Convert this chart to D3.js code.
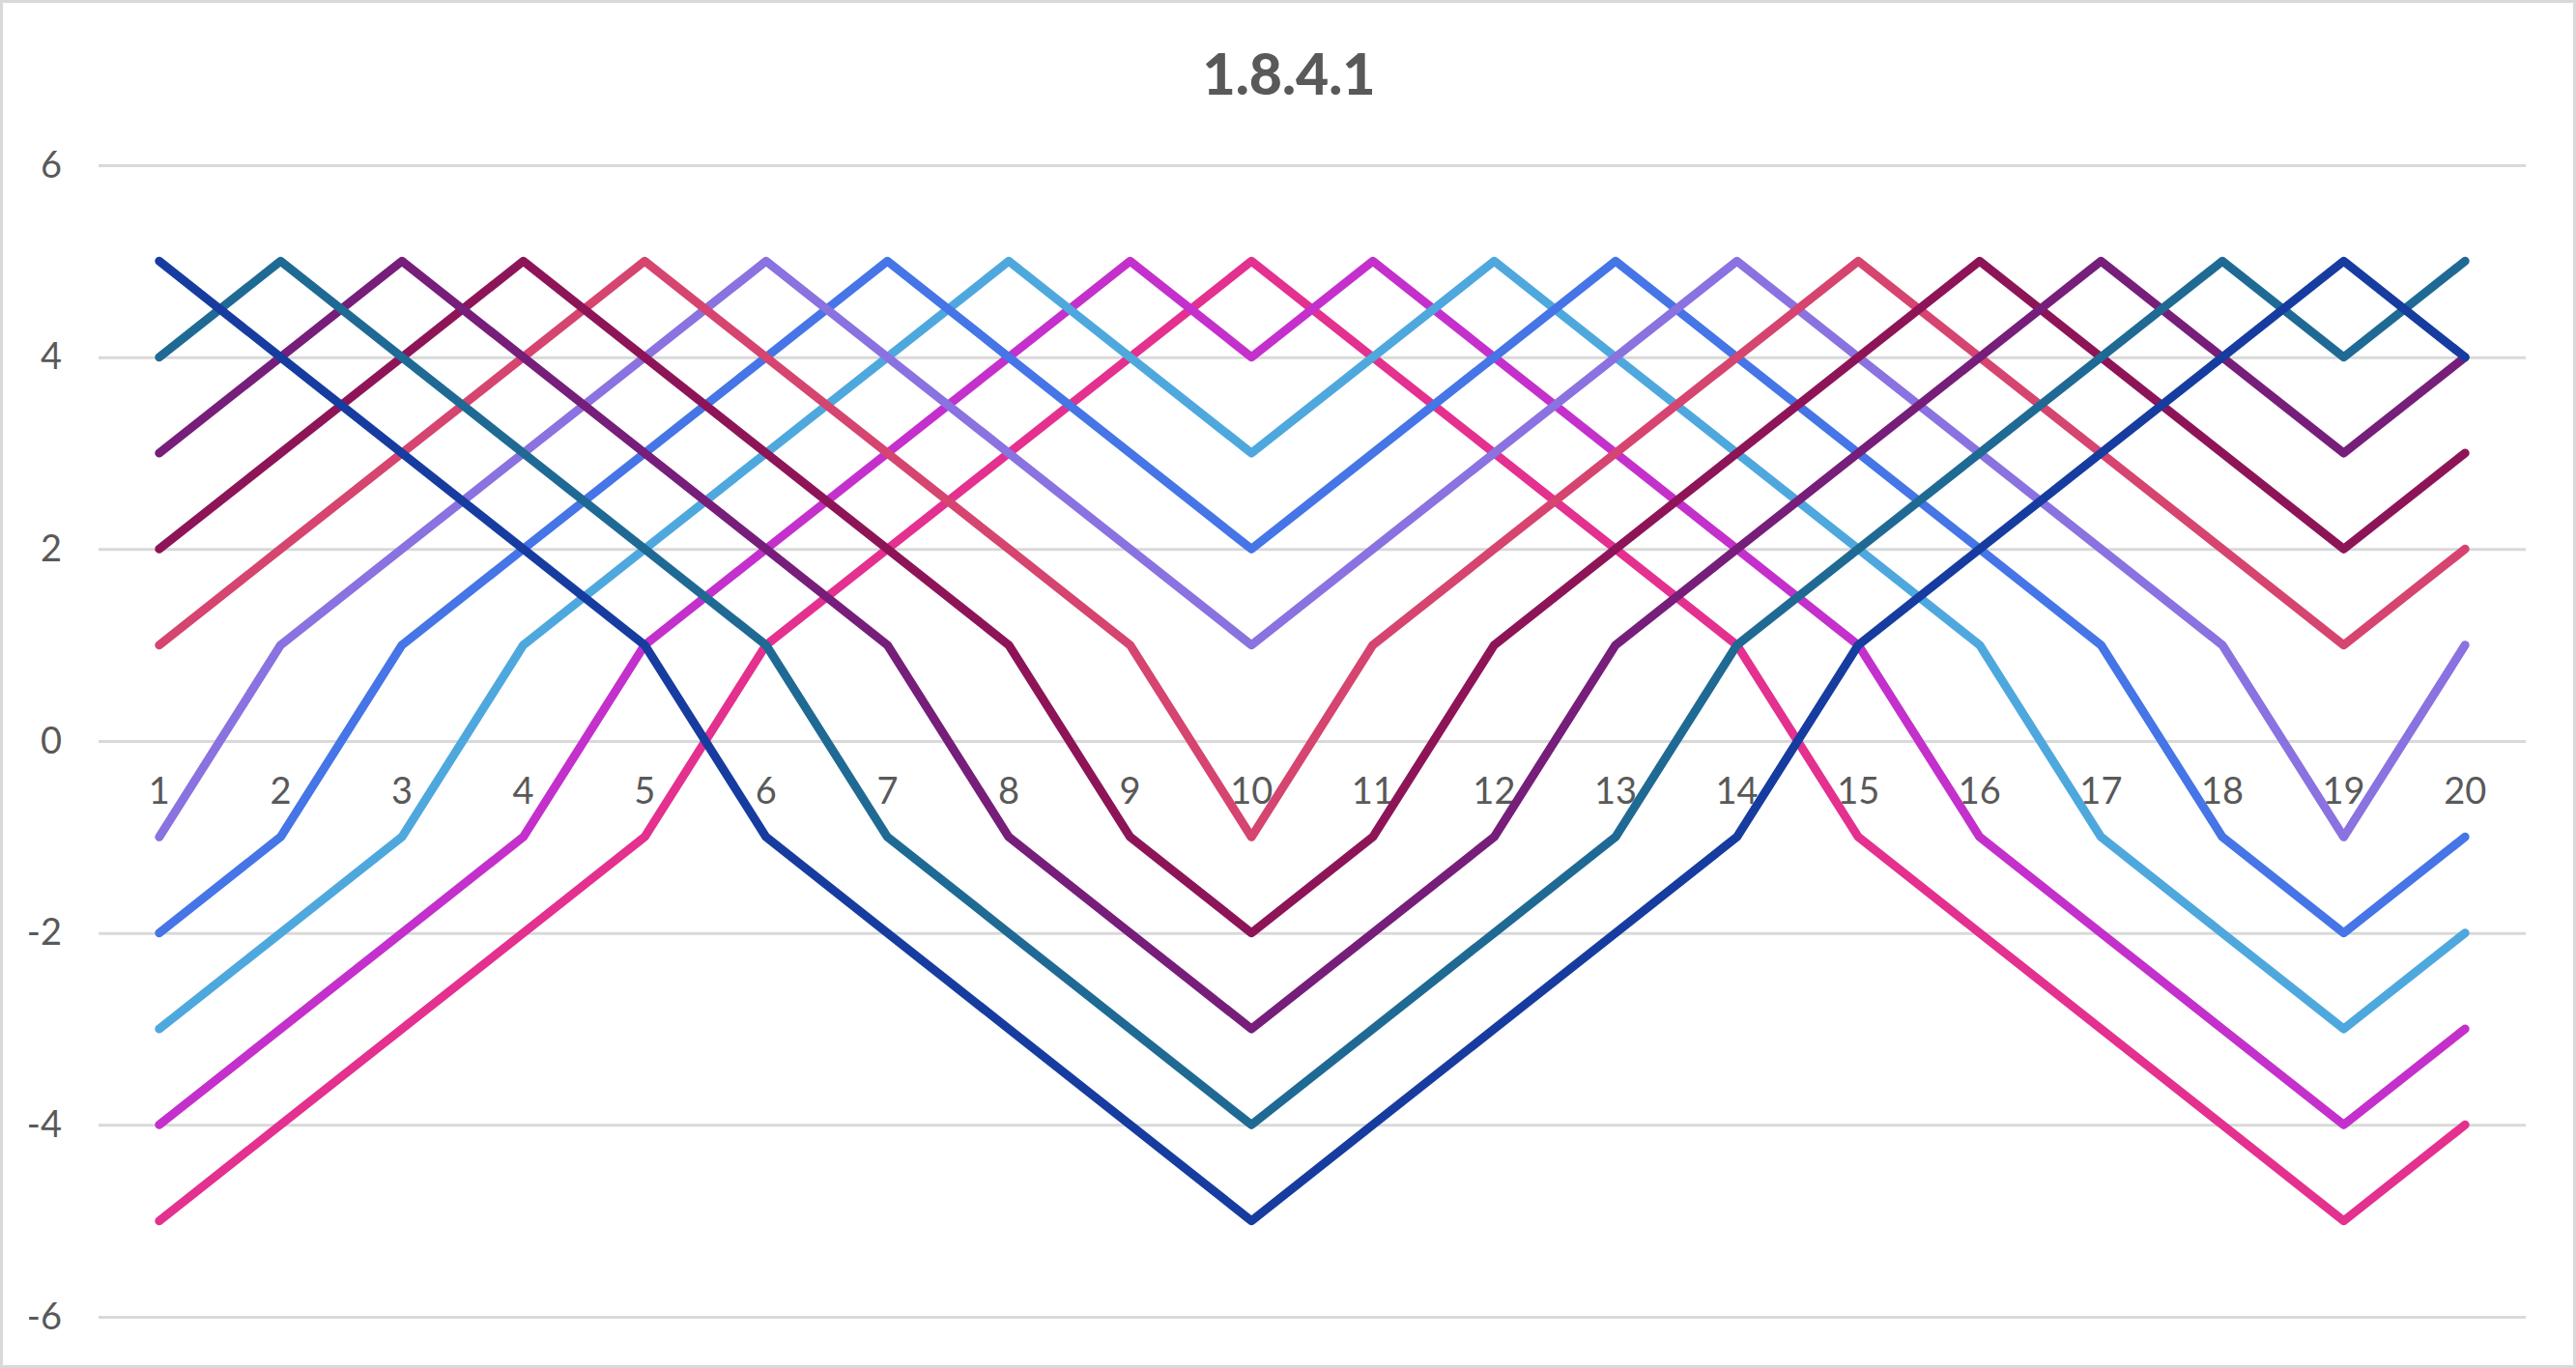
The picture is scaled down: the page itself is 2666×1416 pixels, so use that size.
<!DOCTYPE html>
<html>
<head>
<meta charset="utf-8">
<script src="https://cdn.jsdelivr.net/npm/d3@7"></script>
<style>
  html, body { margin: 0; padding: 0; background: #fff; }
  svg { display: block; }
</style>
</head>
<body>
<div id="chart"></div>
<script>
// Chart size
const width = 2666;
const height = 1416;

// Data
const title = "1.8.4.1";
const categories = d3.range(1, 21).map(String);
const yTicks = [-6, -4, -2, 0, 2, 4, 6];

const s1 = [5, 4, 3, 2, 1, -1, -2, -3, -4, -5, -4, -3, -2, -1, 1, 2, 3, 4, 5, 4];
const s2 = [4, 5, 4, 3, 2, 1, -1, -2, -3, -4, -3, -2, -1, 1, 2, 3, 4, 5, 4, 5];
const s3 = [3, 4, 5, 4, 3, 2, 1, -1, -2, -3, -2, -1, 1, 2, 3, 4, 5, 4, 3, 4];
const s4 = [2, 3, 4, 5, 4, 3, 2, 1, -1, -2, -1, 1, 2, 3, 4, 5, 4, 3, 2, 3];
const s5 = [1, 2, 3, 4, 5, 4, 3, 2, 1, -1, 1, 2, 3, 4, 5, 4, 3, 2, 1, 2];
const s6 = [-1, 1, 2, 3, 4, 5, 4, 3, 2, 1, 2, 3, 4, 5, 4, 3, 2, 1, -1, 1];
const s7 = [-2, -1, 1, 2, 3, 4, 5, 4, 3, 2, 3, 4, 5, 4, 3, 2, 1, -1, -2, -1];
const s8 = [-3, -2, -1, 1, 2, 3, 4, 5, 4, 3, 4, 5, 4, 3, 2, 1, -1, -2, -3, -2];
const s9 = [-4, -3, -2, -1, 1, 2, 3, 4, 5, 4, 5, 4, 3, 2, 1, -1, -2, -3, -4, -3];
const s10 = [-5, -4, -3, -2, -1, 1, 2, 3, 4, 5, 4, 3, 2, 1, -1, -2, -3, -4, -5, -4];

const seriesColors = ["#173ca0", "#1f6a94", "#761e7a", "#8e1458", "#d64470",
                      "#8a72e0", "#4575e6", "#4ea8de", "#c430cc", "#e4308f"];

// drawn from last to first so the dark blue sits on top
const series = [s1, s2, s3, s4, s5, s6, s7, s8, s9, s10]
    .map((values, i) => ({values, color: seriesColors[i]}))
    .reverse();

const font = "Lato, 'Open Sans', sans-serif";

const x = d3.scaleBand()
    .domain(categories)
    .range([102, 2614]);

const y = d3.scaleLinear()
    .domain([-6, 6])
    .range([1363, 171]);

const svg = d3.select("#chart").append("svg")
    .attr("width", width)
    .attr("height", height);

// outer border
svg.append("rect")
    .attr("x", 1.5)
    .attr("y", 1.5)
    .attr("width", width - 3)
    .attr("height", height - 3)
    .attr("fill", "#fff")
    .attr("stroke", "#d9d9d9")
    .attr("stroke-width", 3);

// title
svg.append("text")
    .attr("x", 1334)
    .attr("y", 98)
    .attr("text-anchor", "middle")
    .attr("font-family", font)
    .attr("font-weight", 900)
    .attr("font-size", 59)
    .attr("fill", "#595959")
    .text(title);

// y axis + gridlines (plain hyphen for negatives, like the original)
const yAxis = svg.append("g")
    .attr("transform", `translate(102,0)`)
    .call(d3.axisLeft(y)
        .tickValues(yTicks)
        .tickFormat(d => String(d))
        .tickSize(-(2614 - 102))
        .tickPadding(38));

yAxis.select(".domain").remove();
yAxis.selectAll(".tick line")
    .attr("stroke", "#d9d9d9")
    .attr("stroke-width", 3);
yAxis.selectAll(".tick text")
    .attr("font-family", font)
    .attr("font-size", 38)
    .attr("fill", "#595959");

// category axis sits on y = 0
const xAxis = svg.append("g")
    .attr("transform", `translate(0,${y(0)})`)
    .call(d3.axisBottom(x).tickSize(0).tickPadding(38));

xAxis.select(".domain").remove();
xAxis.selectAll(".tick text")
    .attr("font-family", font)
    .attr("font-size", 38)
    .attr("fill", "#595959");

// lines
const line = d3.line()
    .x((d, i) => x(categories[i]) + x.bandwidth() / 2)
    .y(d => y(d));

svg.append("g")
    .selectAll("path")
    .data(series)
    .join("path")
    .attr("fill", "none")
    .attr("stroke", d => d.color)
    .attr("stroke-width", 9)
    .attr("stroke-linejoin", "round")
    .attr("stroke-linecap", "round")
    .attr("d", d => line(d.values));
</script>
</body>
</html>
